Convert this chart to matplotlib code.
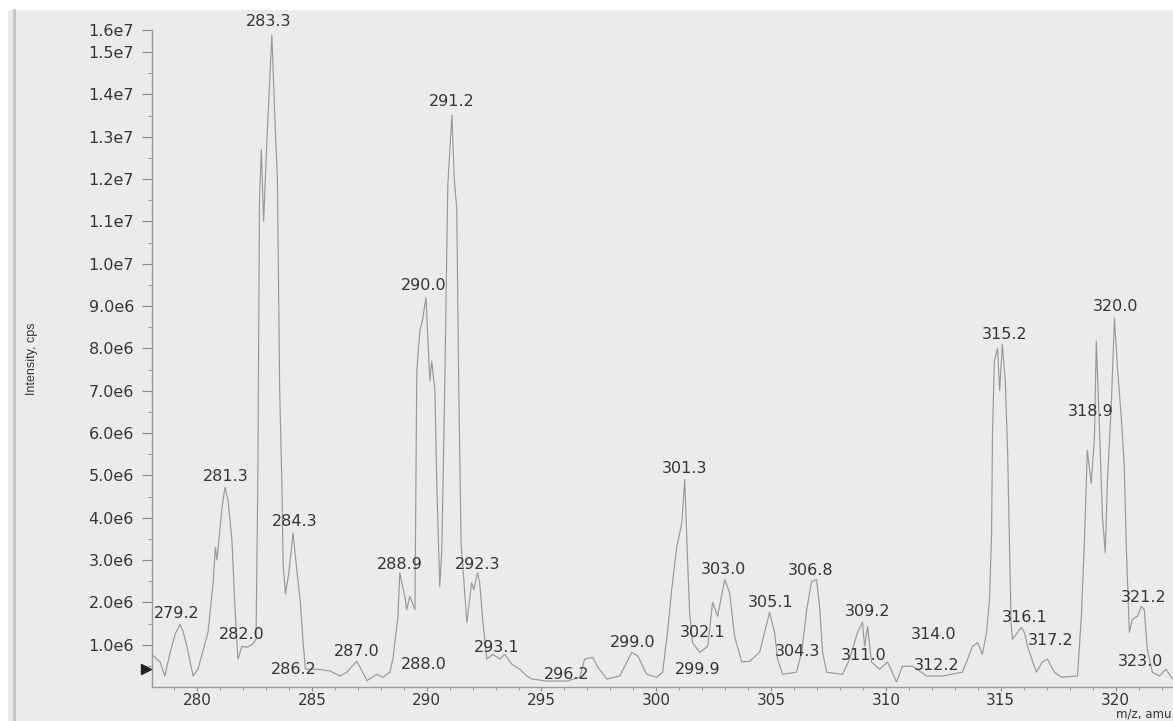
import matplotlib
matplotlib.use("Agg")
import matplotlib.pyplot as plt
from matplotlib.patches import Rectangle
from matplotlib.lines import Line2D
import matplotlib.transforms as mtransforms

# ---------------- data ----------------
profile_mz = [278.04, 278.39, 278.6, 278.83, 279.05, 279.26, 279.4, 279.56, 279.83, 280.04,
              280.48, 280.7, 280.8, 280.87, 281.09, 281.22, 281.35, 281.52, 281.65, 281.78,
              281.96, 282.18, 282.4, 282.57, 282.65, 282.72, 282.8, 282.9, 283.05, 283.26,
              283.4, 283.5, 283.6, 283.7, 283.75, 283.85, 284.0, 284.18, 284.3, 284.5,
              284.62, 284.72, 285.22, 285.79, 286.22, 286.52, 286.96, 287.4, 287.83, 288.1,
              288.4, 288.53, 288.75, 288.83, 288.92, 289.05, 289.13, 289.27, 289.49, 289.57,
              289.7, 289.83, 289.97, 290.05, 290.14, 290.22, 290.36, 290.44, 290.57, 290.66,
              290.79, 290.92, 291.1, 291.2, 291.31, 291.4, 291.5, 291.75, 291.96, 292.05,
              292.22, 292.31, 292.45, 292.62, 292.88, 293.19, 293.4, 293.7, 294.06, 294.36,
              294.58, 295.23, 296.1, 296.67, 296.88, 297.23, 297.45, 297.84, 298.41, 298.93,
              299.2, 299.58, 300.02, 300.28, 300.5, 300.67, 300.89, 301.11, 301.24, 301.33,
              301.45, 301.58, 301.89, 302.24, 302.45, 302.67, 302.98, 303.19, 303.41, 303.72,
              304.07, 304.5, 304.93, 305.15, 305.28, 305.5, 306.1, 306.33, 306.55, 306.76,
              306.98, 307.11, 307.24, 307.42, 308.11, 308.42, 308.76, 308.98, 309.07, 309.2,
              309.37, 309.72, 310.07, 310.46, 310.72, 311.16, 311.77, 312.46, 313.33, 313.77,
              313.99, 314.2, 314.38, 314.51, 314.6, 314.64, 314.72, 314.86, 314.95, 315.07,
              315.2, 315.3, 315.37, 315.45, 315.51, 315.9, 316.03, 316.16, 316.55, 316.81,
              317.03, 317.34, 317.64, 318.34, 318.51, 318.64, 318.77, 318.94, 319.08, 319.16,
              319.29, 319.43, 319.55, 319.64, 319.82, 319.95, 320.08, 320.25, 320.38, 320.47,
              320.6, 320.73, 320.95, 321.12, 321.25, 321.38, 321.6, 321.9, 322.2, 322.47]
profile_intensity_1e6 = [0.77, 0.59, 0.26, 0.82, 1.25, 1.48, 1.3, 0.96, 0.26, 0.42,
                         1.29, 2.46, 3.3, 3.0, 4.25, 4.72, 4.41, 3.47, 1.9, 0.66,
                         0.96, 0.94, 1.0, 1.13, 5.0, 11.5, 12.7, 11.0, 13.0, 15.4,
                         13.3, 12.0, 7.0, 4.7, 2.9, 2.2, 2.7, 3.64, 3.0, 2.0,
                         1.05, 0.42, 0.42, 0.38, 0.26, 0.35, 0.61, 0.15, 0.3, 0.23,
                         0.35, 0.66, 1.67, 2.7, 2.46, 2.14, 1.83, 2.14, 1.83, 7.46,
                         8.4, 8.7, 9.2, 8.24, 7.23, 7.7, 7.0, 4.81, 2.37, 3.24,
                         7.16, 11.85, 13.5, 12.0, 11.3, 7.0, 3.4, 1.53, 2.46, 2.3,
                         2.7, 2.46, 1.53, 0.66, 0.77, 0.66, 0.77, 0.54, 0.42, 0.26,
                         0.19, 0.14, 0.14, 0.23, 0.66, 0.7, 0.47, 0.19, 0.26, 0.82,
                         0.73, 0.3, 0.23, 0.35, 1.36, 2.3, 3.31, 3.87, 4.9, 3.47,
                         1.76, 1.05, 0.82, 0.96, 2.0, 1.67, 2.54, 2.23, 1.2, 0.59,
                         0.61, 0.82, 1.76, 1.29, 0.66, 0.3, 0.35, 0.82, 1.83, 2.49,
                         2.54, 1.9, 0.82, 0.35, 0.3, 0.66, 1.29, 1.53, 0.96, 1.43,
                         0.59, 0.42, 0.59, 0.12, 0.49, 0.49, 0.26, 0.26, 0.35, 0.96,
                         1.05, 0.77, 1.29, 2.07, 3.64, 5.99, 7.7, 8.0, 7.0, 8.1,
                         7.2, 5.5, 3.6, 1.5, 1.13, 1.41, 1.29, 0.96, 0.35, 0.59,
                         0.66, 0.35, 0.23, 0.26, 1.67, 3.4, 5.59, 4.81, 5.89, 8.17,
                         6.22, 4.01, 3.17, 4.81, 6.76, 8.71, 7.54, 6.36, 5.19, 3.24,
                         1.29, 1.6, 1.67, 1.9, 1.83, 0.89, 0.35, 0.26, 0.42, 0.19]

peak_labels = ["283.3", "291.2", "290.0", "281.3", "284.3", "279.2", "282.0", "286.2",
               "287.0", "288.9", "288.0", "292.3", "293.1", "296.2", "299.0", "301.3",
               "302.1", "299.9", "303.0", "305.1", "304.3", "306.8", "309.2", "311.0",
               "314.0", "312.2", "315.2", "320.0", "318.9", "316.1", "317.2", "321.2", "323.0"]
label_mz = [283.13, 291.10, 289.88, 281.26, 284.26, 279.13, 281.96, 284.22,
            286.96, 288.83, 289.88, 292.23, 293.05, 296.10, 298.97, 301.24,
            302.02, 301.80, 302.93, 304.98, 306.15, 306.72, 309.20, 309.03,
            312.07, 312.20, 315.16, 320.00, 318.90, 316.03, 317.16, 321.21, 321.08]
label_intensity_1e6 = [15.71, 13.82, 9.48, 4.97, 3.90, 1.73, 1.24, 0.41,
                       0.84, 2.89, 0.53, 2.89, 0.93, 0.29, 1.05, 5.16,
                       1.28, 0.41, 2.77, 1.99, 0.84, 2.75, 1.78, 0.74,
                       1.24, 0.51, 8.32, 9.00, 6.50, 1.64, 1.10, 2.11, 0.60]

x_ticks = [280, 285, 290, 295, 300, 305, 310, 315, 320]
y_ticks_1e6 = [1, 2, 3, 4, 5, 6, 7, 8, 9, 10, 11, 12, 13, 14, 15, 15.52]
y_tick_labels = ["1.0e6", "2.0e6", "3.0e6", "4.0e6", "5.0e6", "6.0e6", "7.0e6", "8.0e6",
                 "9.0e6", "1.0e7", "1.1e7", "1.2e7", "1.3e7", "1.4e7", "1.5e7", "1.6e7"]
threshold_1e6 = 0.43
x_range = (278.04, 322.5)
y_range_1e6 = (0, 15.52)

# ---------------- figure ----------------
W, H = 1173, 721
fig = plt.figure(figsize=(W / 100, H / 100), dpi=100)
fig.patch.set_facecolor("#ebebeb")
# white margins of the scan
fig.patches.append(Rectangle((0, 1 - 10 / H), 1, 10 / H, transform=fig.transFigure,
                             facecolor="white", edgecolor="none", zorder=0))
fig.patches.append(Rectangle((0, 0), 8 / W, 1, transform=fig.transFigure,
                             facecolor="white", edgecolor="none", zorder=0))
fig.lines.append(Line2D([14 / W, 14 / W], [0, 1 - 10 / H], transform=fig.transFigure,
                        color="#c4c4c4", lw=2.0))

left, right, top, bottom = 152, 1173, 30, 687
ax = fig.add_axes([left / W, (H - bottom) / H, (right - left) / W, (bottom - top) / H])
ax.set_facecolor("none")

scale = 1e6
ax.plot(profile_mz, [v * scale for v in profile_intensity_1e6],
        color="#999999", lw=0.85)

ax.set_xlim(*x_range)
ax.set_ylim(y_range_1e6[0] * scale, y_range_1e6[1] * scale)

txt_color = "#353535"
for lab, mx, my in zip(peak_labels, label_mz, label_intensity_1e6):
    ax.text(mx, my * scale, lab, ha="center", va="center", fontsize=11.5,
            color=txt_color, family="DejaVu Sans", clip_on=False)

ax.set_xticks(x_ticks)
ax.set_xticklabels([str(t) for t in x_ticks])
ax.set_xticks([t for t in range(279, 323) if t % 5 != 0], minor=True)
ax.set_yticks([v * scale for v in y_ticks_1e6])
ax.set_yticklabels(y_tick_labels)
ax.set_yticks([(v + 0.5) * scale for v in range(0, 15)], minor=True)

ax.tick_params(axis="y", which="major", length=7, width=0.8, color="#8a8a8a",
               labelsize=11.5, labelcolor=txt_color, pad=6)
ax.tick_params(axis="y", which="minor", length=3, width=0.7, color="#9a9a9a")
ax.tick_params(axis="x", which="major", length=3, width=0.8, color="#8a8a8a",
               labelsize=11, labelcolor=txt_color, pad=1)
ax.tick_params(axis="x", which="minor", length=2, width=0.7, color="#9a9a9a")
for lbl in ax.get_xticklabels() + ax.get_yticklabels():
    lbl.set_family("DejaVu Sans")

for s in ["top", "right"]:
    ax.spines[s].set_visible(False)
for s in ["left", "bottom"]:
    ax.spines[s].set_color("#9a9a9a")
    ax.spines[s].set_linewidth(1.0)

# threshold marker
trans = mtransforms.blended_transform_factory(ax.transAxes, ax.transData)
ax.plot([-6 / (right - left)], [threshold_1e6 * scale], marker=">", color="#222222",
        markersize=7, transform=trans, clip_on=False)

fig.text(32 / W, 1 - 359 / H, "Intensity, cps", rotation=90, ha="center", va="center",
         fontsize=9, color=txt_color, family="Liberation Sans")
fig.text(1171 / W, 0.5 / H, "m/z, amu", ha="right", va="bottom",
         fontsize=8.5, color=txt_color, family="DejaVu Sans")

fig.savefig("out.png", dpi=100, facecolor=fig.get_facecolor())
